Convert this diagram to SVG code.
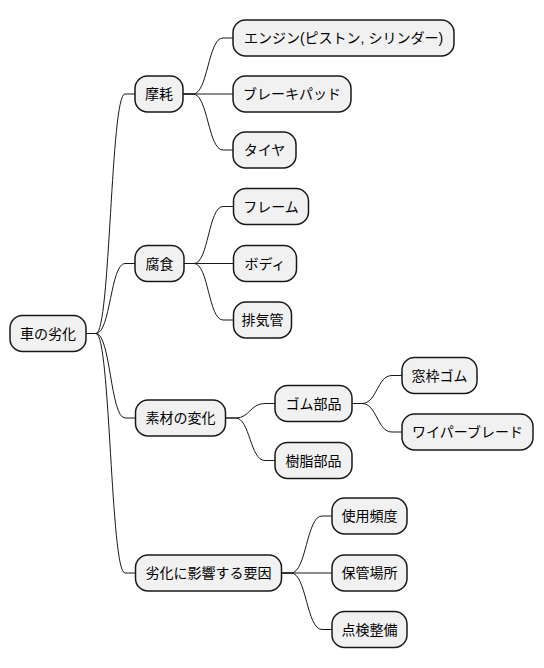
<svg xmlns="http://www.w3.org/2000/svg" width="544" height="668" viewBox="0 0 544 668">
<style>
.n rect{fill:#F1F1F1;stroke:#181818;stroke-width:1.5}
.n text{font-family:"Liberation Sans","Noto Sans CJK JP",sans-serif;font-size:14px;fill:#000;text-anchor:middle}
.c path{fill:none;stroke:#181818;stroke-width:1}
</style>
<rect width="544" height="668" fill="#FFFFFF"/>
<g class="c" id="connectors">
<path d="M86,333.5 H96 C110.5,333.5 110.5,94 125,94 H135"/>
<path d="M86,333.5 H96 C110.5,333.5 110.5,263.5 125,263.5 H135"/>
<path d="M86,333.5 H96 C110.5,333.5 110.5,418 125,418 H135"/>
<path d="M86,333.5 H96 C110.5,333.5 110.5,573 125,573 H135"/>
<path d="M183,94 H193 C208,94 208,38 223,38 H233"/>
<path d="M183,94 H233"/>
<path d="M183,94 H193 C208,94 208,150 223,150 H233"/>
<path d="M184,263.5 H194 C208.5,263.5 208.5,206.5 223,206.5 H233.5"/>
<path d="M184,263.5 H233.5"/>
<path d="M184,263.5 H194 C208.5,263.5 208.5,320 223,320 H233.5"/>
<path d="M225.5,418 H235.5 C250,418 250,403.5 265,403.5 H275"/>
<path d="M225.5,418 H235.5 C250,418 250,460.5 265,460.5 H275"/>
<path d="M352,403.5 H362 C377,403.5 377,375.5 392,375.5 H402"/>
<path d="M352,403.5 H362 C377,403.5 377,432 392,432 H402"/>
<path d="M281,573 H291 C306.5,573 306.5,516 322,516 H332"/>
<path d="M281,573 H332"/>
<path d="M281,573 H291 C306.5,573 306.5,629.5 322,629.5 H332"/>
</g>
<g class="n" id="root"><rect x="10" y="315.5" width="76" height="36" rx="12.5"/><text x="48" y="338.5">車の劣化</text></g>
<g class="n" id="mamou"><rect x="135" y="76" width="48" height="36" rx="12.5"/><text x="159" y="99">摩耗</text></g>
<g class="n" id="engine"><rect x="233" y="20" width="221" height="36" rx="12.5"/><text x="343.5" y="43">エンジン(ピストン, シリンダー)</text></g>
<g class="n" id="brake"><rect x="233" y="76" width="118" height="36" rx="12.5"/><text x="292" y="99">ブレーキパッド</text></g>
<g class="n" id="tire"><rect x="233" y="132" width="63" height="36" rx="12.5"/><text x="264.5" y="155">タイヤ</text></g>
<g class="n" id="fushoku"><rect x="135" y="245.5" width="49" height="36" rx="12.5"/><text x="159.5" y="268.5">腐食</text></g>
<g class="n" id="frame"><rect x="233.5" y="188.5" width="75" height="36" rx="12.5"/><text x="271" y="211.5">フレーム</text></g>
<g class="n" id="body"><rect x="233.5" y="245.5" width="63" height="36" rx="12.5"/><text x="265" y="268.5">ボディ</text></g>
<g class="n" id="exhaust"><rect x="233.5" y="302" width="58" height="36" rx="12.5"/><text x="262.5" y="325">排気管</text></g>
<g class="n" id="material"><rect x="135.5" y="400" width="90" height="36" rx="12.5"/><text x="180.5" y="423">素材の変化</text></g>
<g class="n" id="rubber"><rect x="275" y="385.5" width="77" height="36" rx="12.5"/><text x="313.5" y="408.5">ゴム部品</text></g>
<g class="n" id="window"><rect x="402" y="357.5" width="75" height="36" rx="12.5"/><text x="439.5" y="380.5">窓枠ゴム</text></g>
<g class="n" id="wiper"><rect x="402" y="414" width="131" height="36" rx="12.5"/><text x="467.5" y="437">ワイパーブレード</text></g>
<g class="n" id="resin"><rect x="275" y="442.5" width="77" height="36" rx="12.5"/><text x="313.5" y="465.5">樹脂部品</text></g>
<g class="n" id="factors"><rect x="135.5" y="555" width="146" height="36" rx="12.5"/><text x="208.5" y="578">劣化に影響する要因</text></g>
<g class="n" id="usage"><rect x="332" y="498" width="75" height="36" rx="12.5"/><text x="369.5" y="521">使用頻度</text></g>
<g class="n" id="storage"><rect x="332" y="555" width="75" height="36" rx="12.5"/><text x="369.5" y="578">保管場所</text></g>
<g class="n" id="maint"><rect x="332" y="611.5" width="75" height="36" rx="12.5"/><text x="369.5" y="634.5">点検整備</text></g>
</svg>
